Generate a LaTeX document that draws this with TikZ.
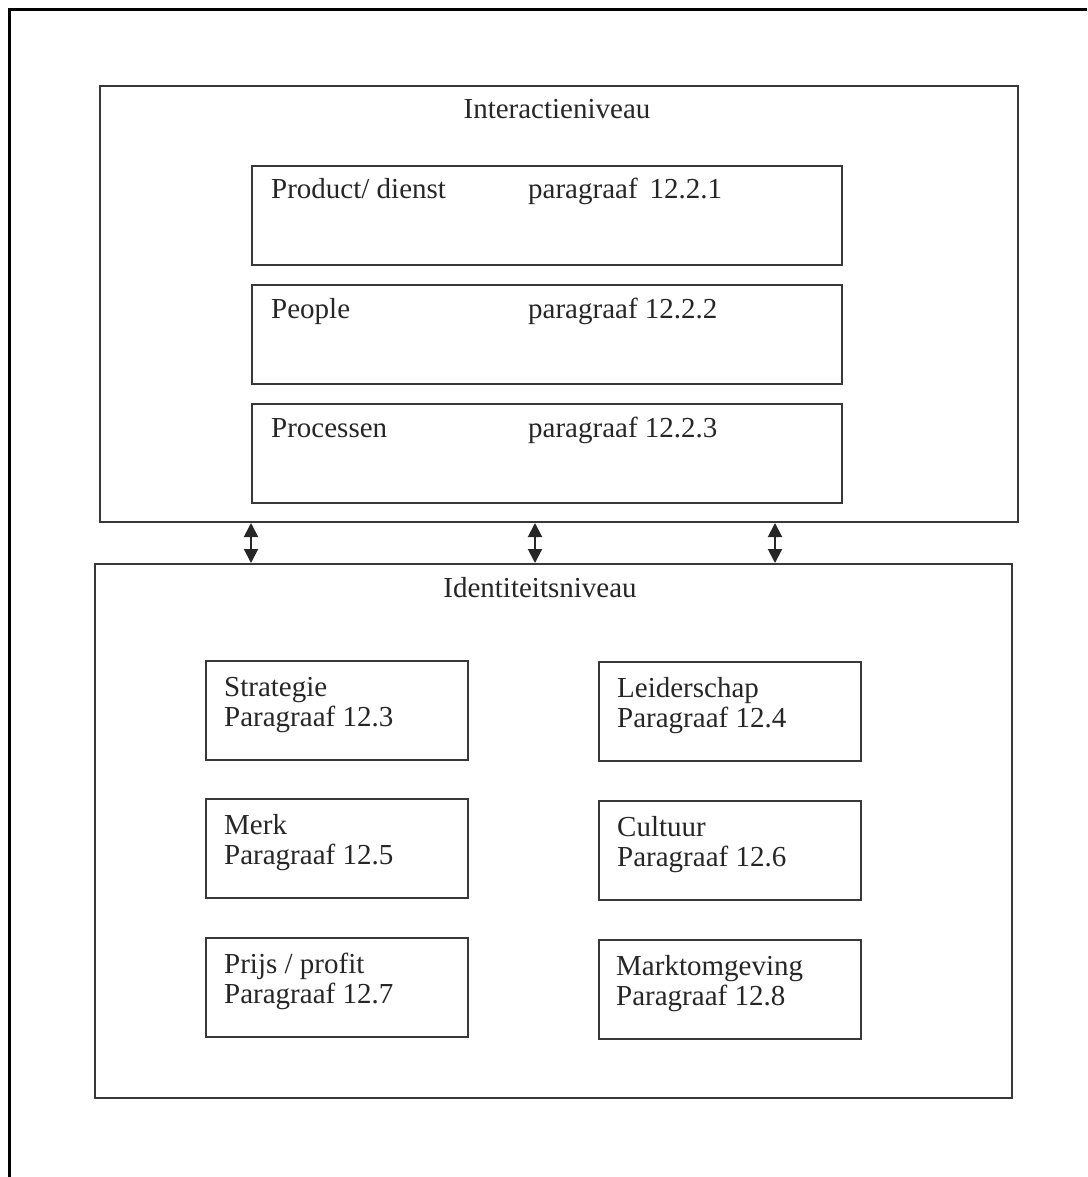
\documentclass[tikz,border=0pt]{standalone}
\usepackage{fontspec}
\setmainfont{Liberation Serif}
\usetikzlibrary{arrows.meta}
\begin{document}
\begin{tikzpicture}[x=1pt,y=-1pt,
  box/.style={draw=black!78,line width=2pt,inner sep=0pt,anchor=north west},
  txt/.style={anchor=base west,inner sep=0pt,font=\fontsize{29}{30}\selectfont,text=black!85},
  ttl/.style={anchor=base,inner sep=0pt,font=\fontsize{29}{30}\selectfont,text=black!85},
  link/.style={line width=2pt,draw=black!85,{Triangle[length=14pt,width=14pt]}-{Triangle[length=14pt,width=14pt]}}]
\useasboundingbox (0,0) rectangle (1087,1177);
% outer frame (left and top edges visible)
\draw[line width=3pt] (9,1177) -- (9,10) -- (1087,10);

% Interaction level
\node[box,minimum width=918pt,minimum height=436pt] (inter) at (99,85) {};
\node[ttl] (intert) at (557,119) {Interactieniveau};

\node[box,minimum width=590pt,minimum height=99pt] (b1) at (251,165) {};
\node[box,minimum width=590pt,minimum height=99pt] (b2) at (251,284) {};
\node[box,minimum width=590pt,minimum height=99pt] (b3) at (251,403) {};
\node[txt] (b1a) at (271,199) {Product/ dienst};
\node[txt] (b1b) at (528,199) {paragraaf\, 12.2.1};
\node[txt] (b2a) at (271,318) {People};
\node[txt] (b2b) at (528,318) {paragraaf 12.2.2};
\node[txt] (b3a) at (271,437) {Processen};
\node[txt] (b3b) at (528,437) {paragraaf 12.2.3};

% Identity level
\node[box,minimum width=917pt,minimum height=534pt] (ident) at (94,563) {};
\node[ttl] (identt) at (540,597) {Identiteitsniveau};

\node[box,minimum width=262pt,minimum height=99pt] (s1) at (205,660) {};
\node[box,minimum width=262pt,minimum height=99pt] (s2) at (205,798) {};
\node[box,minimum width=262pt,minimum height=99pt] (s3) at (205,937) {};
\node[box,minimum width=262pt,minimum height=99pt] (r1) at (598,661) {};
\node[box,minimum width=262pt,minimum height=99pt] (r2) at (598,800) {};
\node[box,minimum width=262pt,minimum height=99pt] (r3) at (598,939) {};

\node[txt] (s1a) at (224,696) {Strategie};
\node[txt] (s1b) at (224,726) {Paragraaf 12.3};
\node[txt] (s2a) at (224,834) {Merk};
\node[txt] (s2b) at (224,864) {Paragraaf 12.5};
\node[txt] (s3a) at (224,973) {Prijs / profit};
\node[txt] (s3b) at (224,1003) {Paragraaf 12.7};
\node[txt] (r1a) at (617,697) {Leiderschap};
\node[txt] (r1b) at (617,727) {Paragraaf 12.4};
\node[txt] (r2a) at (617,836) {Cultuur};
\node[txt] (r2b) at (617,866) {Paragraaf 12.6};
\node[txt] (r3a) at (616,975) {Marktomgeving};
\node[txt] (r3b) at (616,1005) {Paragraaf 12.8};

% connectors
\coordinate (a1) at (251,0);
\coordinate (a2) at (535,0);
\coordinate (a3) at (775,0);
\draw[link] (inter.south -| a1) -- (ident.north -| a1);
\draw[link] (inter.south -| a2) -- (ident.north -| a2);
\draw[link] (inter.south -| a3) -- (ident.north -| a3);
\end{tikzpicture}
\end{document}
